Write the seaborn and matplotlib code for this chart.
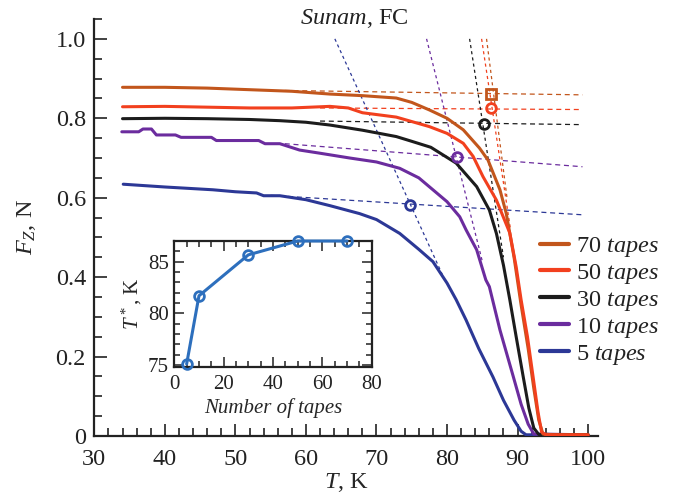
import numpy as np
import pandas as pd
import matplotlib
matplotlib.use("Agg")
import matplotlib.pyplot as plt
import seaborn as sns
from matplotlib.ticker import MultipleLocator, FixedLocator
from matplotlib.lines import Line2D

# ---------------- data ----------------
series_labels = ["70", "50", "30", "10", "5"]
colors = ["#c2561c", "#f2401e", "#1c1c1c", "#6b2c9e", "#2c3896"]

T_70 = [34, 40, 46, 52, 58, 63.4, 68, 72.8, 75, 77.5, 80, 82.3, 84.6, 85.8, 87.5, 88.4,
        89.5, 90.5, 91.5, 92.3, 93.0, 93.6, 95, 100]
F_70 = [0.878, 0.878, 0.876, 0.872, 0.868, 0.861, 0.857, 0.851, 0.840, 0.821, 0.800, 0.771,
        0.725, 0.695, 0.620, 0.560, 0.450, 0.330, 0.220, 0.120, 0.040, 0.005, 0.003, 0.003]

T_50 = [34, 40, 46, 52, 58, 63.4, 66, 68, 72.8, 77.5, 80, 82.3, 83.7, 85.1, 87, 88.9,
        89.8, 90.5, 91.4, 92.2, 92.9, 93.4, 94, 100]
F_50 = [0.829, 0.830, 0.828, 0.826, 0.826, 0.830, 0.826, 0.814, 0.803, 0.779, 0.762, 0.737,
        0.704, 0.653, 0.594, 0.511, 0.426, 0.343, 0.250, 0.149, 0.060, 0.010, 0.003, 0.003]

T_30 = [34, 40, 46, 52, 56.3, 60, 63.4, 68, 72.8, 75, 77.7, 81.3, 84.2, 86, 87, 88,
        88.9, 89.8, 90.8, 91.6, 92.3, 93, 100]
F_30 = [0.799, 0.800, 0.799, 0.797, 0.794, 0.790, 0.783, 0.770, 0.754, 0.742, 0.727, 0.687,
        0.628, 0.569, 0.510, 0.430, 0.343, 0.250, 0.149, 0.070, 0.020, 0.004, 0.003]

T_10 = [33.9, 36.3, 36.9, 38.1, 38.8, 41.5, 42.3, 46.6, 47.3, 53.3, 54.2, 56.3, 59.1, 62, 66.2,
        70, 73.3, 76, 78, 80, 81.8, 82.7, 84.2, 85.5, 86, 87.5, 89.4, 90.5, 91.5, 92.3, 100]
F_10 = [0.766, 0.766, 0.773, 0.773, 0.758, 0.758, 0.752, 0.752, 0.744, 0.744, 0.736, 0.736,
        0.720, 0.712, 0.700, 0.690, 0.674, 0.650, 0.620, 0.590, 0.552, 0.519, 0.469, 0.393,
        0.376, 0.267, 0.149, 0.080, 0.030, 0.005, 0.003]

T_5 = [34.1, 40, 46.8, 50, 53, 54, 56.3, 60, 63.4, 67.6, 70, 73.3, 76, 78, 80, 81.3, 82.7,
       84.5, 86.5, 88, 89.5, 90.5, 91.2, 100]
F_5 = [0.634, 0.627, 0.620, 0.615, 0.612, 0.605, 0.605, 0.595, 0.580, 0.560, 0.545, 0.510,
       0.470, 0.439, 0.385, 0.343, 0.292, 0.220, 0.149, 0.090, 0.040, 0.012, 0.003, 0.003]

# T* markers in main panel
tstar_T = [86.3, 86.3, 85.2, 81.4, 74.8]
tstar_F = [0.861, 0.825, 0.786, 0.703, 0.582]
tstar_marker = ["s", "o", "o", "o", "o"]

# linear fits (plateau and transition), endpoints
plateau_T = [[57, 99.2], [62, 99.2], [62, 99.2], [57, 99.2], [55, 99.2]]
plateau_F = [[0.870, 0.859], [0.826, 0.822], [0.793, 0.784], [0.736, 0.678], [0.606, 0.557]]
steep_T = [[85.6, 88.5], [84.9, 89.0], [83.2, 88.0], [77.1, 85.0], [64.1, 79.5]]
steep_F = [[1.0, 0.60], [1.0, 0.52], [1.0, 0.45], [1.0, 0.44], [1.0, 0.40]]

# inset
inset_N = [5, 10, 30, 50, 70]
inset_Tstar = [75.1, 81.7, 85.66, 87.0, 87.0]

curves_T = [T_70, T_50, T_30, T_10, T_5]
curves_F = [F_70, F_50, F_30, F_10, F_5]

# ---------------- style ----------------
sns.set_theme(style="ticks")
plt.rcParams["font.family"] = ["Liberation Serif", "DejaVu Serif"]
plt.rcParams["mathtext.fontset"] = "custom"
plt.rcParams["mathtext.rm"] = "Liberation Serif"
plt.rcParams["mathtext.it"] = "Liberation Serif:italic"
plt.rcParams["mathtext.bf"] = "Liberation Serif:bold"
plt.rcParams["axes.edgecolor"] = "#222222"
plt.rcParams["xtick.color"] = "#222222"
plt.rcParams["ytick.color"] = "#222222"
plt.rcParams["text.color"] = "#222222"

fig = plt.figure(figsize=(6.8, 4.98), dpi=100)
W, H = 680, 498
ax = fig.add_axes([94.3 / W, 1 - 436 / H, (598 - 94.3) / W, (436 - 19) / H])

# fit lines
for i in range(5):
    c = colors[i]
    sns.lineplot(x=plateau_T[i], y=plateau_F[i], color=c, lw=0.9, ax=ax,
                 estimator=None, sort=False, legend=False, zorder=1)
    ax.lines[-1].set_dashes([4, 3])
    sns.lineplot(x=steep_T[i], y=steep_F[i], color=c, lw=0.9, ax=ax,
                 estimator=None, sort=False, legend=False, zorder=1)
    ax.lines[-1].set_dashes([2.5, 2.5])

# curves (draw order: 5, 10, 30, 70, 50)
for i in [4, 3, 2, 0, 1]:
    sns.lineplot(x=curves_T[i], y=curves_F[i], color=colors[i], lw=2.2, ax=ax,
                 estimator=None, sort=False, legend=False, zorder=3)

# T* markers
for i in range(5):
    ax.plot(tstar_T[i], tstar_F[i], marker=tstar_marker[i], ms=7, mfc="none",
            mec=colors[i], mew=2, zorder=5, ls="none")

ax.set_xlim(30, 101.4)
ax.set_ylim(0, 1.05)
ax.xaxis.set_major_locator(FixedLocator([30, 40, 50, 60, 70, 80, 90, 100]))
ax.xaxis.set_minor_locator(MultipleLocator(2))
ax.yaxis.set_major_locator(FixedLocator([0, 0.2, 0.4, 0.6, 0.8, 1.0]))
ax.yaxis.set_minor_locator(MultipleLocator(0.05))
ax.set_yticklabels(["0", "0.2", "0.4", "0.6", "0.8", "1.0"])
ax.tick_params(which="both", direction="in", top=False, right=False, labelsize=17.5, width=1.2)
ax.tick_params(which="major", length=9)
ax.tick_params(axis="x", which="major", pad=9)
ax.tick_params(axis="y", which="major", pad=6)
ax.tick_params(which="minor", length=6)
for s in ["top", "right"]:
    ax.spines[s].set_visible(False)
for s in ["left", "bottom"]:
    ax.spines[s].set_linewidth(1.6)
ax.set_xlabel("$T$, K", fontsize=17.5, labelpad=1)
ax.set_ylabel("$F_Z$, N", fontsize=17.5, labelpad=13)
ax.text(66.9, 1.05, r"$\mathit{Sunam}$, FC", fontsize=17.5, ha="center", va="center",
        clip_on=False)

handles = [Line2D([0], [0], color=c, lw=3) for c in colors]
labels = [f"{s} $\\mathit{{tapes}}$" for s in series_labels]
ax.legend(handles, labels, loc="upper left", bbox_to_anchor=(540 / W, 1 - 235 / H),
          bbox_transform=fig.transFigure, frameon=False, fontsize=17.5,
          handlelength=1.2, handletextpad=0.3, labelspacing=0.12, borderpad=0,
          borderaxespad=0)

# inset
axin = fig.add_axes([174.3 / W, 1 - 366.7 / H, (371.7 - 174.3) / W, (366.7 - 240.7) / H])
sns.lineplot(x=inset_N, y=inset_Tstar, color="#2d6fbd", lw=2.2, ax=axin,
             estimator=None, sort=False, legend=False, marker="o", ms=7, mfc="none",
             mec="#2d6fbd", mew=2, clip_on=False, zorder=5)
axin.set_xlim(0, 80)
axin.set_ylim(74.84, 87.03)
axin.xaxis.set_major_locator(FixedLocator([0, 20, 40, 60, 80]))
axin.xaxis.set_minor_locator(MultipleLocator(5))
axin.yaxis.set_major_locator(FixedLocator([75, 80, 85]))
axin.yaxis.set_minor_locator(MultipleLocator(1))
axin.tick_params(which="both", direction="in", top=True, right=True, labelsize=15, width=1.1)
axin.tick_params(which="major", length=7)
axin.tick_params(axis="x", which="major", pad=6)
axin.tick_params(axis="y", which="major", pad=4)
axin.tick_params(which="minor", length=4)
for s in axin.spines.values():
    s.set_linewidth(1.6)
axin.set_xlabel("Number of tapes", fontsize=15, style="italic", labelpad=3)
axin.set_ylabel("$T^*$, K", fontsize=15, labelpad=3)

fig.savefig("out.png", dpi=100)
